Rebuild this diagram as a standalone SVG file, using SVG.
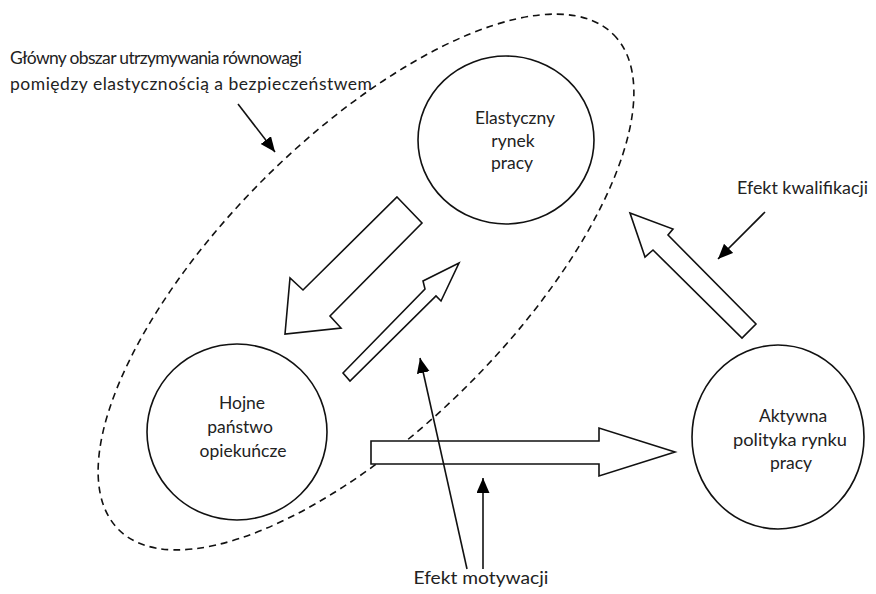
<svg xmlns="http://www.w3.org/2000/svg" width="876" height="594" viewBox="0 0 876 594">
<defs>
<marker id="ah" markerUnits="userSpaceOnUse" markerWidth="16" markerHeight="14" refX="15" refY="6.5" orient="auto">
<path d="M0,0 L15,6.5 L0,13 z" fill="#000"/>
</marker>
</defs>
<style>
.bg{fill:#fff}
.node{fill:#fff;stroke:#111;stroke-width:1.6}
.blk{fill:#fff;stroke:#111;stroke-width:1.6;stroke-linejoin:miter}
.dash{fill:none;stroke:#111;stroke-width:1.6;stroke-dasharray:7 5}
.ln{fill:none;stroke:#111;stroke-width:1.6;marker-end:url(#ah)}
text{font-family:Lato,"Open Sans","Liberation Sans",sans-serif;font-size:17.5px;fill:#222}
.t{font-size:17.5px}
.c{text-anchor:middle}
</style>
<rect class="bg" x="0" y="0" width="876" height="594"/>
<g id="area">
<ellipse class="dash" cx="366" cy="282" rx="350" ry="145" transform="rotate(-45 366 282)"/>
<text class="t" x="10" y="64" textLength="292" lengthAdjust="spacing">Główny obszar utrzymywania równowagi</text>
<text class="t" x="10" y="90" textLength="362" lengthAdjust="spacing">pomiędzy elastycznością a bezpieczeństwem</text>
</g>
<g id="elastyczny">
<ellipse class="node" cx="506" cy="140" rx="88" ry="84"/>
<text class="c" x="515" y="124" textLength="80" lengthAdjust="spacingAndGlyphs">Elastyczny</text>
<text class="c" x="513" y="147">rynek</text>
<text class="c" x="512" y="169">pracy</text>
</g>
<g id="hojne">
<ellipse class="node" cx="237" cy="432" rx="90" ry="88"/>
<text class="c" x="242" y="409">Hojne</text>
<text class="c" x="240" y="433">państwo</text>
<text class="c" x="243" y="457">opiekuńcze</text>
</g>
<g id="aktywna">
<ellipse class="node" cx="778" cy="437" rx="86" ry="92"/>
<text class="c" x="793" y="422">Aktywna</text>
<text class="c" x="790" y="446" textLength="114" lengthAdjust="spacingAndGlyphs">polityka rynku</text>
<text class="c" x="791" y="469">pracy</text>
</g>
<g id="connectors">
<polygon class="blk" points="397,197 422,223 330,316 341,328 285,334 290,278 303,290"/>
<polygon class="blk" points="343,373 425,289 423,281 459,263 441,301 436,296 350,381"/>
<polygon class="blk" points="371,441 599,441 599,428 675,452 599,476 599,464 371,464"/>
<polygon class="blk" points="630,213 673,229 668,235 756,324 742,338 653,250 645,257"/>
<line class="ln" x1="238" y1="104" x2="275" y2="152"/>
<line class="ln" x1="765" y1="212" x2="718" y2="259"/>
<line class="ln" x1="467" y1="569" x2="420" y2="358"/>
<line class="ln" x1="483" y1="569" x2="483" y2="478"/>
</g>
<g id="labels">
<text x="737" y="194" textLength="131" lengthAdjust="spacingAndGlyphs">Efekt kwalifikacji</text>
<text class="c" x="481" y="584" textLength="135" lengthAdjust="spacingAndGlyphs">Efekt motywacji</text>
</g>
</svg>
